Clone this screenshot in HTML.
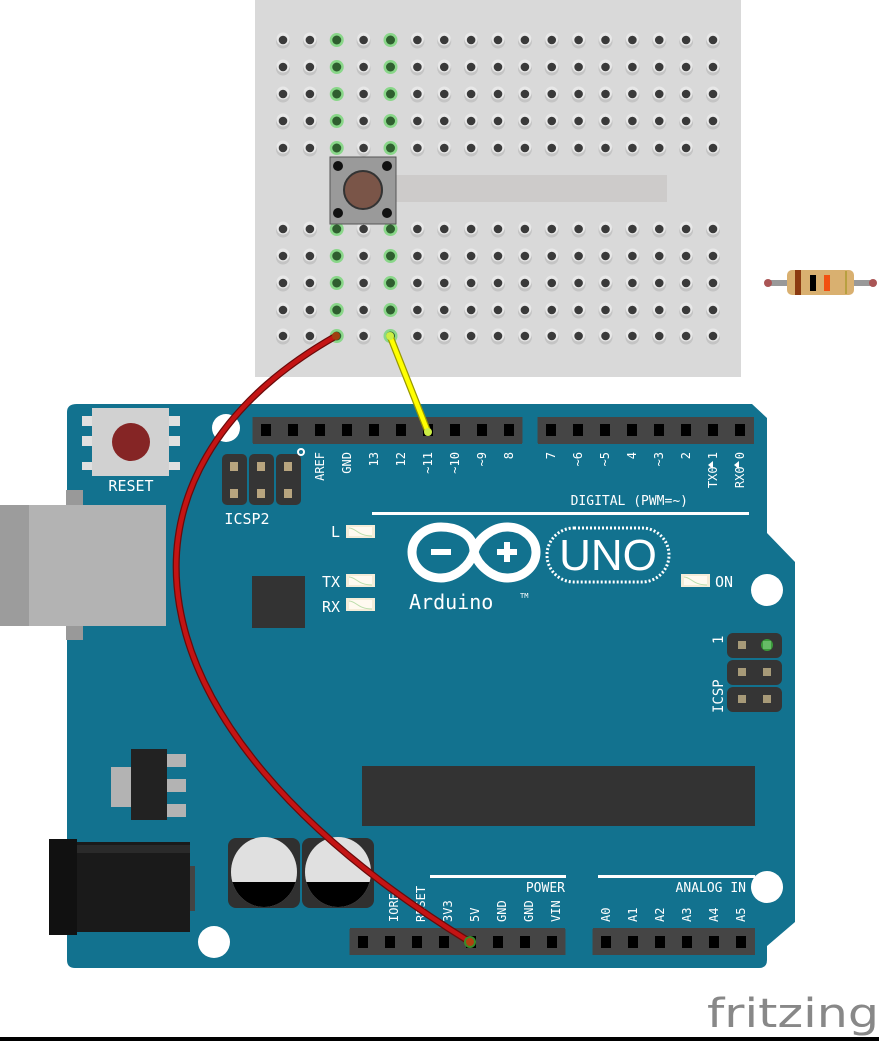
<!DOCTYPE html>
<html><head><meta charset="utf-8"><style>html,body{margin:0;padding:0;background:#fff}svg{display:block}text{font-family:"DejaVu Sans Mono","Liberation Mono",monospace;fill:#fff}</style></head>
<body>
<svg width="879" height="1041" viewBox="0 0 879 1041" xmlns="http://www.w3.org/2000/svg" xmlns:xlink="http://www.w3.org/1999/xlink">
<defs>
<g id="hole"><circle r="7" fill="#c4c4c4" cy="1.5"/><circle r="6.5" fill="#e8e8e8" cy="-1"/><circle r="4.3" fill="#3a3a3a"/></g>
<g id="gh"><circle r="7" fill="#7fd67f" opacity="0.9"/><circle r="4.5" fill="#2f5e2f"/></g>
<g id="hrow">
<use href="#hole" x="283"/><use href="#hole" x="309.9"/><use href="#gh" x="336.75"/><use href="#hole" x="363.6"/><use href="#gh" x="390.5"/><use href="#hole" x="417.4"/><use href="#hole" x="444.25"/><use href="#hole" x="471.1"/><use href="#hole" x="498"/><use href="#hole" x="524.9"/><use href="#hole" x="551.75"/><use href="#hole" x="578.6"/><use href="#hole" x="605.5"/><use href="#hole" x="632.4"/><use href="#hole" x="659.25"/><use href="#hole" x="686.1"/><use href="#hole" x="713"/>
</g>
<g id="pin"><rect x="-13.5" y="-13" width="27" height="26" fill="#454545"/><rect x="-5" y="-6" width="10" height="12" fill="#000"/></g>
<g id="p6"><use href="#pin" x="0"/><use href="#pin" x="27"/><use href="#pin" x="54"/><use href="#pin" x="81"/><use href="#pin" x="108"/><use href="#pin" x="135"/></g>
<g id="p8"><use href="#p6"/><use href="#pin" x="162"/><use href="#pin" x="189"/></g>
<g id="p10"><use href="#p8"/><use href="#pin" x="216"/><use href="#pin" x="243"/></g>
<g id="led"><rect x="0" y="0" width="29" height="13" fill="#f4ecd8"/><rect x="3" y="2" width="23" height="9" fill="#fffaf0"/><path d="M3,3 C10,3 12,11 26,11" stroke="#bda" fill="none"/></g>
<clipPath id="c1"><ellipse cx="264" cy="872" rx="33" ry="35"/></clipPath>
<clipPath id="c2"><ellipse cx="338" cy="872" rx="33" ry="35"/></clipPath>
</defs>

<!-- breadboard -->
<rect x="255" y="0" width="486" height="377" fill="#d9d9d9"/>
<rect x="395" y="175" width="272" height="27" fill="#cdcbca"/>
<use href="#hrow" y="40"/><use href="#hrow" y="67"/><use href="#hrow" y="94"/><use href="#hrow" y="121"/><use href="#hrow" y="148"/>
<use href="#hrow" y="229"/><use href="#hrow" y="256"/><use href="#hrow" y="283"/><use href="#hrow" y="310"/><use href="#hrow" y="336"/>

<!-- board -->
<path d="M77,404 L752,404 L767,418 L767,533 L795,562 L795,922 L767,946 L767,960 Q767,968 759,968 L75,968 Q67,968 67,960 L67,412 Q67,404 77,404 Z" fill="#12728f"/>
<circle cx="226" cy="428" r="14" fill="#fff"/>
<circle cx="767" cy="590" r="16" fill="#fff"/>
<circle cx="767" cy="887" r="16" fill="#fff"/>
<circle cx="214" cy="942" r="16" fill="#fff"/>

<!-- USB -->
<rect x="66" y="490" width="17" height="150" fill="#999"/>
<rect x="0" y="505" width="166" height="121" fill="#b3b3b3"/>
<rect x="0" y="505" width="29" height="121" fill="#9c9c9c"/>

<!-- reset -->
<rect x="82" y="416" width="98" height="10" fill="#e0e0e0"/>
<rect x="82" y="436" width="98" height="10" fill="#e0e0e0"/>
<rect x="82" y="462" width="98" height="8" fill="#e0e0e0"/>
<rect x="92" y="408" width="77" height="68" fill="#d1d1d1"/>
<circle cx="131" cy="442" r="19" fill="#852525"/>
<text x="131" y="491" font-size="15" text-anchor="middle">RESET</text>

<!-- ICSP2 -->
<g fill="#353535"><rect x="222" y="454" width="25" height="51" rx="5"/><rect x="249" y="454" width="25" height="51" rx="5"/><rect x="276" y="454" width="25" height="51" rx="5"/></g>
<g fill="#b8a57f"><rect x="230" y="462" width="8" height="9"/><rect x="257" y="462" width="8" height="9"/><rect x="284" y="462" width="8" height="9"/><rect x="230" y="489" width="8" height="9"/><rect x="257" y="489" width="8" height="9"/><rect x="284" y="489" width="8" height="9"/></g>
<text x="247" y="524" font-size="15" text-anchor="middle">ICSP2</text>
<circle cx="301" cy="452" r="3" fill="none" stroke="#fff" stroke-width="2"/>

<!-- headers -->
<rect x="253" y="417" width="269" height="27" fill="#454545"/>
<rect x="538" y="417" width="216" height="27" fill="#454545"/>
<rect x="350" y="928" width="215" height="27" fill="#454545"/>
<rect x="593" y="928" width="162" height="27" fill="#454545"/>
<use href="#p10" x="266" y="430"/>
<use href="#p8" x="551" y="430"/>
<use href="#p8" x="363" y="942"/>
<use href="#p6" x="606" y="942"/>

<!-- digital labels -->
<g font-size="12" text-anchor="end">
<text transform="translate(324,452) rotate(-90)">AREF</text>
<text transform="translate(351,452) rotate(-90)">GND</text>
<text transform="translate(378,452) rotate(-90)">13</text>
<text transform="translate(405,452) rotate(-90)">12</text>
<text transform="translate(432,452) rotate(-90)">~11</text>
<text transform="translate(459,452) rotate(-90)">~10</text>
<text transform="translate(486,452) rotate(-90)">~9</text>
<text transform="translate(513,452) rotate(-90)">8</text>
<text transform="translate(555,452) rotate(-90)">7</text>
<text transform="translate(582,452) rotate(-90)">~6</text>
<text transform="translate(609,452) rotate(-90)">~5</text>
<text transform="translate(636,452) rotate(-90)">4</text>
<text transform="translate(663,452) rotate(-90)">~3</text>
<text transform="translate(690,452) rotate(-90)">2</text>
<text transform="translate(717,452) rotate(-90)">TX0 1</text>
<text transform="translate(744,452) rotate(-90)">RX0 0</text>
</g>
<path d="M708,465 l5,-4 l0,8 z M739,461 l0,8 l-5,-4 z" fill="#fff"/>
<text x="688" y="505" font-size="13" text-anchor="end">DIGITAL (PWM=~)</text>
<rect x="372" y="512" width="377" height="3" fill="#fff"/>

<!-- LEDs -->
<use href="#led" x="346" y="525"/><text x="340" y="537" font-size="15" text-anchor="end">L</text>
<use href="#led" x="346" y="574"/><text x="340" y="587" font-size="15" text-anchor="end">TX</text>
<use href="#led" x="346" y="598"/><text x="340" y="612" font-size="15" text-anchor="end">RX</text>
<use href="#led" x="681" y="574"/><text x="715" y="587" font-size="15">ON</text>

<rect x="252" y="576" width="53" height="52" fill="#333"/>

<!-- logo -->
<g fill="none" stroke="#fff" stroke-width="9">
<path d="M474,552 C474,532 453,527 441,527 C424,527 412,539 412,552 C412,566 424,578 441,578 C455,578 470,566 474,552 C478,538 493,527 507,527 C524,527 536,539 536,552 C536,566 524,578 507,578 C493,578 478,566 474,552 Z"/>
</g>
<rect x="431" y="549" width="20" height="6" fill="#fff"/>
<rect x="497" y="549" width="20" height="6" fill="#fff"/>
<rect x="504" y="542" width="6" height="20" fill="#fff"/>
<rect x="547" y="528" width="122" height="54" rx="27" fill="none" stroke="#fff" stroke-width="3" stroke-dasharray="2 2"/>
<text x="608" y="570" font-size="44" text-anchor="middle" style="font-family:'Liberation Sans',sans-serif">UNO</text>
<text x="409" y="609" font-size="20">Arduino</text>
<text x="520" y="598" font-size="7">TM</text>

<!-- ICSP right -->
<g fill="#353535"><rect x="727" y="633" width="55" height="25" rx="6"/><rect x="727" y="660" width="55" height="25" rx="6"/><rect x="727" y="687" width="55" height="25" rx="6"/></g>
<g fill="#a79a78"><rect x="738" y="641" width="8" height="8"/><rect x="738" y="668" width="8" height="8"/><rect x="763" y="668" width="8" height="8"/><rect x="738" y="695" width="8" height="8"/><rect x="763" y="695" width="8" height="8"/></g>
<circle cx="767" cy="645" r="6" fill="#3a9a3a"/><rect x="763" y="641" width="8" height="8" fill="#6b6"/>
<text transform="translate(723,713) rotate(-90)" font-size="14">ICSP</text>
<text transform="translate(723,644) rotate(-90)" font-size="14">1</text>

<!-- big chip -->
<rect x="362" y="766" width="393" height="60" fill="#333"/>

<!-- regulator -->
<rect x="111" y="767" width="25" height="40" fill="#b3b3b3"/>
<rect x="166" y="754" width="20" height="13" fill="#b3b3b3"/>
<rect x="166" y="779" width="20" height="13" fill="#b3b3b3"/>
<rect x="166" y="804" width="20" height="13" fill="#b3b3b3"/>
<rect x="131" y="749" width="36" height="71" fill="#222"/>

<!-- power jack -->
<rect x="49" y="839" width="28" height="96" fill="#111"/>
<rect x="77" y="842" width="113" height="90" fill="#1a1a1a"/>
<rect x="77" y="845" width="113" height="8" fill="#2a2a2a"/>
<rect x="190" y="866" width="5" height="45" fill="#444"/>

<!-- caps -->
<rect x="228" y="838" width="72" height="70" rx="8" fill="#303030"/>
<ellipse cx="264" cy="872" rx="33" ry="35" fill="#e0e0e0"/>
<rect x="228" y="882" width="72" height="30" fill="#000" clip-path="url(#c1)"/>
<rect x="302" y="838" width="72" height="70" rx="8" fill="#303030"/>
<ellipse cx="338" cy="872" rx="33" ry="35" fill="#e0e0e0"/>
<rect x="302" y="882" width="72" height="30" fill="#000" clip-path="url(#c2)"/>

<!-- power labels -->
<rect x="430" y="875" width="136" height="3" fill="#fff"/>
<rect x="598" y="875" width="157" height="3" fill="#fff"/>
<text x="565" y="892" font-size="13" text-anchor="end">POWER</text>
<text x="746" y="892" font-size="13" text-anchor="end">ANALOG IN</text>
<g font-size="12">
<text transform="translate(398,922) rotate(-90)">IOREF</text>
<text transform="translate(425,922) rotate(-90)">RESET</text>
<text transform="translate(452,922) rotate(-90)">3V3</text>
<text transform="translate(479,922) rotate(-90)">5V</text>
<text transform="translate(506,922) rotate(-90)">GND</text>
<text transform="translate(533,922) rotate(-90)">GND</text>
<text transform="translate(560,922) rotate(-90)">VIN</text>
<text transform="translate(610,922) rotate(-90)">A0</text>
<text transform="translate(637,922) rotate(-90)">A1</text>
<text transform="translate(664,922) rotate(-90)">A2</text>
<text transform="translate(691,922) rotate(-90)">A3</text>
<text transform="translate(718,922) rotate(-90)">A4</text>
<text transform="translate(745,922) rotate(-90)">A5</text>
</g>

<!-- pushbutton -->
<rect x="330" y="157" width="66" height="67" fill="#9a9a9a" stroke="#555"/>
<circle cx="338" cy="166" r="5" fill="#111"/><circle cx="387" cy="166" r="5" fill="#111"/>
<circle cx="338" cy="213" r="5" fill="#111"/><circle cx="387" cy="213" r="5" fill="#111"/>
<circle cx="363" cy="190" r="19" fill="#7a5548" stroke="#333" stroke-width="2"/>

<!-- resistor -->
<line x1="766" y1="283" x2="875" y2="283" stroke="#999" stroke-width="6"/>
<circle cx="768" cy="283" r="4" fill="#a55"/><circle cx="873" cy="283" r="4" fill="#a55"/>
<rect x="787" y="270" width="67" height="25" rx="5" fill="#d9b070"/>
<rect x="806" y="275" width="30" height="15" fill="#d9b070"/>
<rect x="795" y="270" width="6" height="25" fill="#8b3a10"/>
<rect x="810" y="275" width="6" height="16" fill="#000"/>
<rect x="824" y="275" width="6" height="16" fill="#f25010"/>
<rect x="845" y="271" width="2" height="23" fill="#b8a040"/>

<!-- wires -->
<path d="M336,336 C100,470 110,720 470,942" fill="none" stroke="#6a0a0a" stroke-width="7" stroke-linecap="round"/>
<path d="M336,336 C100,470 110,720 470,942" fill="none" stroke="#c41414" stroke-width="4.5" stroke-linecap="round"/>
<circle cx="336" cy="336" r="4" fill="#a04010"/>
<circle cx="470" cy="942" r="6" fill="#3a8a2a"/><circle cx="470" cy="942" r="4" fill="#b04010"/>
<line x1="390" y1="336" x2="428" y2="432" stroke="#999900" stroke-width="7" stroke-linecap="round"/>
<line x1="390" y1="336" x2="428" y2="432" stroke="#ffff00" stroke-width="4.5" stroke-linecap="round"/>
<circle cx="390" cy="336" r="4" fill="#ccee44"/>
<circle cx="428" cy="432" r="4" fill="#ccee44"/>

<!-- fritzing -->
<text x="707" y="1027" font-size="40" style="fill:#888;font-family:'DejaVu Sans','Liberation Sans',sans-serif" textLength="172" lengthAdjust="spacingAndGlyphs">fritzing</text>
<rect x="0" y="1037" width="879" height="4" fill="#000"/>
</svg>
</body></html>
